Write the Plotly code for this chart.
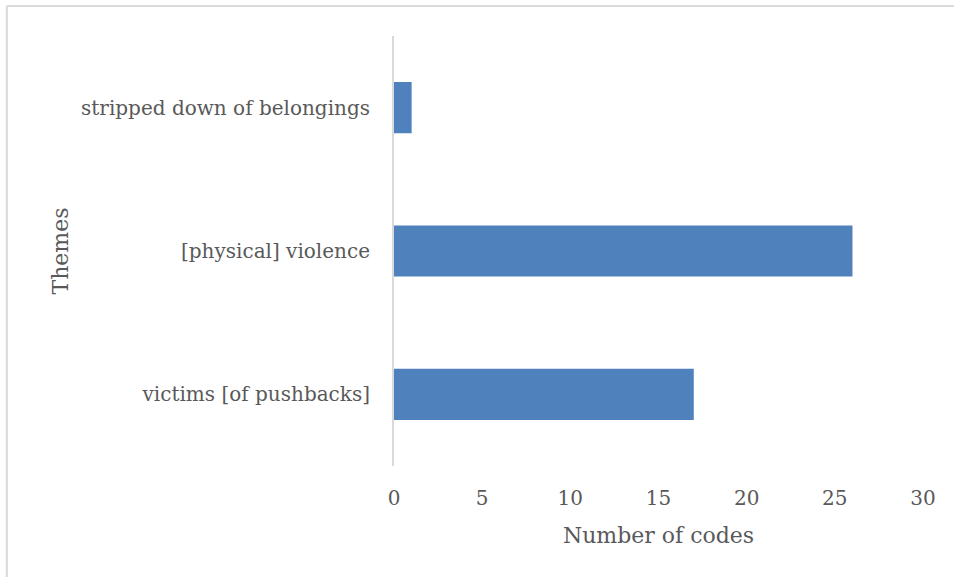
import plotly.graph_objects as go

# Theme categories (bottom to top) and their code counts
themes = ["victims [of pushbacks]", "[physical] violence", "stripped down of belongings"]
counts = [17, 26, 1]
x_ticks = [0, 5, 10, 15, 20, 25, 30]

FONT = "DejaVu Serif"
GRAY = "#595959"

fig = go.Figure(
    go.Bar(
        x=counts,
        y=themes,
        orientation="h",
        marker=dict(color="#4F81BD", line=dict(width=0)),
    )
)

fig.update_layout(
    width=954,
    height=577,
    margin=dict(l=394, r=31, t=36, b=111),
    paper_bgcolor="white",
    plot_bgcolor="white",
    bargap=0.643,
    showlegend=False,
    font=dict(family=FONT, color=GRAY, size=20),
    xaxis=dict(
        range=[0, 30],
        tickvals=x_ticks,
        showgrid=False,
        zeroline=False,
        showline=False,
        ticks="",
        ticklabelstandoff=18,
        tickfont=dict(size=20, color=GRAY),
        title=dict(text="Number of codes", font=dict(size=22, color=GRAY), standoff=18),
        automargin=False,
    ),
    yaxis=dict(
        showgrid=False,
        zeroline=False,
        showline=True,
        linecolor="#D9D9D9",
        linewidth=2,
        ticks="",
        ticklabelstandoff=18,
        tickfont=dict(size=20, color=GRAY),
        title=dict(text="Themes", font=dict(size=22, color=GRAY), standoff=6),
        automargin=False,
    ),
    shapes=[
        # light frame along the top and left edges of the chart area
        dict(type="line", xref="paper", yref="paper", x0=-0.732, x1=1.1, y0=1.07, y1=1.07,
             line=dict(color="#D9D9D9", width=2)),
        dict(type="line", xref="paper", yref="paper", x0=-0.732, x1=-0.732, y0=-0.3, y1=1.07,
             line=dict(color="#D9D9D9", width=2)),
    ],
)

fig.write_html("out.html")
